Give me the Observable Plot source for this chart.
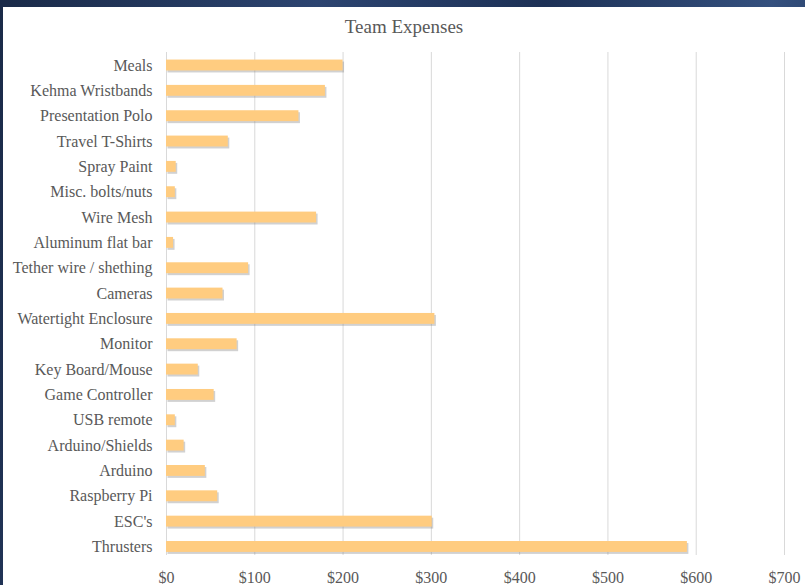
<!DOCTYPE html>
<html>
<head>
<meta charset="utf-8">
<script src="https://cdn.jsdelivr.net/npm/d3@7"></script>
<script src="https://cdn.jsdelivr.net/npm/@observablehq/plot@0.6"></script>
<style>
  html, body { margin: 0; padding: 0; }
  body {
    width: 805px; height: 585px; overflow: hidden; position: relative;
    background: linear-gradient(100deg, #1a2a48 0%, #2c4470 35%, #1d3156 60%, #34507e 85%, #22375e 100%);
  }
  #card {
    position: absolute; left: 3px; top: 7px; width: 802px; height: 578px;
    background: #ffffff;
  }
  #title {
    position: absolute; left: 0; width: 802px; top: 9px; text-align: center;
    font-family: "Liberation Serif", "DejaVu Serif", serif; font-size: 19px; color: #595959;
  }
  #chart { position: absolute; left: 0; top: 33px; }
</style>
</head>
<body>
<div id="card">
  <div id="title">Team Expenses</div>
  <div id="chart"></div>
</div>
<script>
const categories = [
  "Meals", "Kehma Wristbands", "Presentation Polo", "Travel T-Shirts", "Spray Paint",
  "Misc. bolts/nuts", "Wire Mesh", "Aluminum flat bar", "Tether wire / shething", "Cameras",
  "Watertight Enclosure", "Monitor", "Key Board/Mouse", "Game Controller", "USB remote",
  "Arduino/Shields", "Arduino", "Raspberry Pi", "ESC's", "Thrusters"
];
const amounts = [
  200, 180, 150, 70, 11,
  10, 170, 8, 93, 64,
  304, 80, 36, 54, 10,
  20, 44, 58, 301, 590
];
const xTicks = [0, 100, 200, 300, 400, 500, 600, 700];

const data = categories.map((c, i) => ({category: c, amount: amounts[i]}));
const serif = "'Liberation Serif', 'DejaVu Serif', serif";

const chart = Plot.plot({
  width: 802,
  height: 545,
  marginTop: 12,
  marginBottom: 30,
  marginLeft: 163,
  marginRight: 21,
  style: {fontFamily: serif, fontSize: "16px", color: "#595959", background: "transparent"},
  x: {domain: [0, 700], ticks: xTicks, tickFormat: d => "$" + d, label: null},
  y: {domain: categories, label: null, paddingInner: 0.57, paddingOuter: 0.21, align: 0.71, round: false},
  marks: [
    Plot.gridX(xTicks, {stroke: "#d9d9d9", strokeOpacity: 1, strokeWidth: 1}),
    Plot.axisX({ticks: xTicks, tickFormat: d => "$" + d, tickSize: 0, tickPadding: 16, fontSize: 16, fontFamily: serif, fill: "#595959", label: null}),
    Plot.axisY({tickSize: 0, tickPadding: 14, fontSize: 16, fontFamily: serif, fill: "#595959", label: null}),
    Plot.barX(data, {x: "amount", y: "category", fill: "#7a7a7a", fillOpacity: 0.35, dx: 1.5, dy: 2}),
    Plot.barX(data, {x: "amount", y: "category", fill: "#ffcc80"})
  ]
});
document.getElementById("chart").appendChild(chart);
</script>
</body>
</html>
